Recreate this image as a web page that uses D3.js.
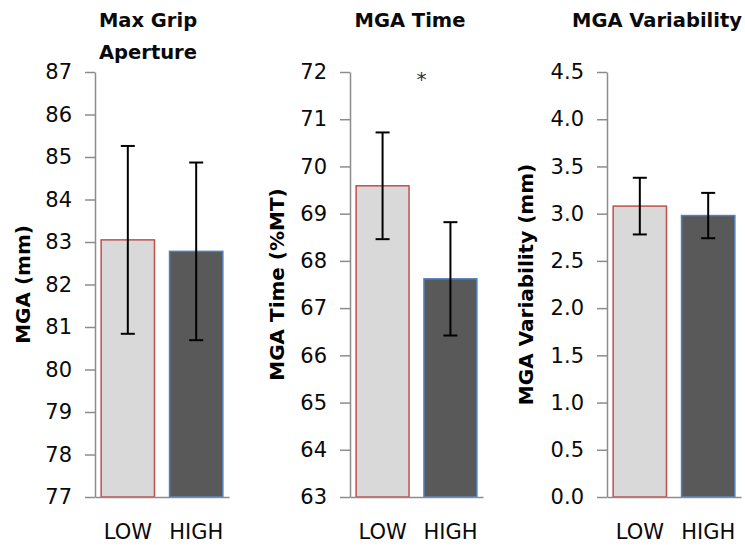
<!DOCTYPE html>
<html>
<head>
<meta charset="utf-8">
<script src="https://cdn.jsdelivr.net/npm/d3@7"></script>
<style>
  html, body { margin: 0; padding: 0; background: #fff; }
  svg { display: block; font-family: "DejaVu Sans", Verdana, sans-serif; }
</style>
</head>
<body>
<svg id="chart" width="745" height="548"></svg>
<script>
// ---- data ----
const categories = ["LOW", "HIGH"];
const panelTitles = [["Max Grip", "Aperture"], ["MGA Time"], ["MGA Variability"]];
const yAxisLabels = ["MGA (mm)", "MGA Time (%MT)", "MGA Variability (mm)"];
const yDomains = [[77, 87], [63, 72], [0, 4.5]];
const yTickStep = [1, 1, 0.5];
const yTickFormats = ["d", "d", ".1f"];
const mgaMeans = [83.05, 82.78];
const mgaErrors = [2.21, 2.09];
const timeMeans = [69.59, 67.62];
const timeErrors = [1.13, 1.2];
const varMeans = [3.08, 2.98];
const varErrors = [0.3, 0.24];
const significance = ["", "*", ""];

const means = [mgaMeans, timeMeans, varMeans];
const errors = [mgaErrors, timeErrors, varErrors];

// ---- layout ----
const layout = [
  { x0: 95, x1: 229, titleX: 148, labelX: 23 },
  { x0: 350, x1: 483, titleX: 410, labelX: 277 },
  { x0: 607, x1: 741, titleX: 657, labelX: 526 }
];
const plotTop = 72, plotBottom = 497;
const fills = ["#d9d9d9", "#595959"];
const strokes = ["#c0504d", "#4f81bd"];
const axisColor = "#8c8c8c";

const svg = d3.select("#chart");

layout.forEach((L, p) => {
  const g = svg.append("g");
  const y = d3.scaleLinear().domain(yDomains[p]).range([plotBottom, plotTop]);
  const x = d3.scaleBand().domain(categories).range([L.x0, L.x1])
    .paddingInner(0.22).paddingOuter(0.09);

  const ticks = d3.range(yDomains[p][0], yDomains[p][1] + 1e-9, yTickStep[p]);

  // bars
  g.selectAll("rect.bar").data(categories).join("rect")
    .attr("class", "bar")
    .attr("x", d => x(d))
    .attr("width", x.bandwidth())
    .attr("y", (d, i) => y(means[p][i]))
    .attr("height", (d, i) => y(yDomains[p][0]) - y(means[p][i]))
    .attr("fill", (d, i) => fills[i])
    .attr("stroke", (d, i) => strokes[i])
    .attr("stroke-width", 1.5);

  // y axis
  const yAxis = d3.axisLeft(y).tickValues(ticks)
    .tickFormat(d3.format(yTickFormats[p]))
    .tickSize(10).tickPadding(13).tickSizeOuter(0);
  const ya = g.append("g").attr("transform", `translate(${L.x0},0)`).call(yAxis);
  ya.select(".domain").attr("stroke", axisColor).attr("stroke-width", 1.5);
  ya.selectAll(".tick line").attr("stroke", axisColor).attr("stroke-width", 1.5);
  ya.selectAll(".tick text").attr("fill", "#0a0a0a").style("font-size", "21px")
    .style("font-family", "DejaVu Sans, Verdana, sans-serif");

  // x axis
  const xAxis = d3.axisBottom(x).tickSize(0).tickPadding(27);
  const xa = g.append("g").attr("transform", `translate(0,${plotBottom})`).call(xAxis);
  xa.select(".domain").attr("stroke", axisColor).attr("stroke-width", 1.5);
  xa.selectAll(".tick text").attr("fill", "#0a0a0a").style("font-size", "21px")
    .style("font-family", "DejaVu Sans, Verdana, sans-serif");

  // error bars
  const cap = 7;
  const eb = g.selectAll("g.err").data(categories).join("g").attr("class", "err");
  eb.append("line")
    .attr("x1", d => x(d) + x.bandwidth() / 2)
    .attr("x2", d => x(d) + x.bandwidth() / 2)
    .attr("y1", (d, i) => y(means[p][i] + errors[p][i]))
    .attr("y2", (d, i) => y(means[p][i] - errors[p][i]))
    .attr("stroke", "#000").attr("stroke-width", 2);
  eb.append("line")
    .attr("x1", d => x(d) + x.bandwidth() / 2 - cap)
    .attr("x2", d => x(d) + x.bandwidth() / 2 + cap)
    .attr("y1", (d, i) => y(means[p][i] + errors[p][i]))
    .attr("y2", (d, i) => y(means[p][i] + errors[p][i]))
    .attr("stroke", "#000").attr("stroke-width", 2);
  eb.append("line")
    .attr("x1", d => x(d) + x.bandwidth() / 2 - cap)
    .attr("x2", d => x(d) + x.bandwidth() / 2 + cap)
    .attr("y1", (d, i) => y(means[p][i] - errors[p][i]))
    .attr("y2", (d, i) => y(means[p][i] - errors[p][i]))
    .attr("stroke", "#000").attr("stroke-width", 2);

  // title
  const t = g.append("text").attr("text-anchor", "middle")
    .attr("font-weight", "bold").style("font-size", "19.5px").attr("fill", "#0a0a0a");
  panelTitles[p].forEach((line, k) => {
    t.append("tspan").attr("x", L.titleX).attr("y", 27 + k * 32).text(line);
  });

  // y label
  g.append("text")
    .attr("transform", `translate(${L.labelX},${(plotTop + plotBottom) / 2}) rotate(-90)`)
    .attr("text-anchor", "middle").attr("dominant-baseline", "central")
    .attr("font-weight", "bold").style("font-size", "20px").attr("fill", "#000")
    .text(yAxisLabels[p]);

  // significance marker
  if (significance[p]) {
    const cx = (x(categories[0]) + x(categories[1]) + x.bandwidth()) / 2 + 5;
    g.append("text").attr("x", cx).attr("y", 86).attr("text-anchor", "middle")
      .style("font-size", "20px").attr("fill", "#333").text(significance[p]);
  }
});
</script>
</body>
</html>
